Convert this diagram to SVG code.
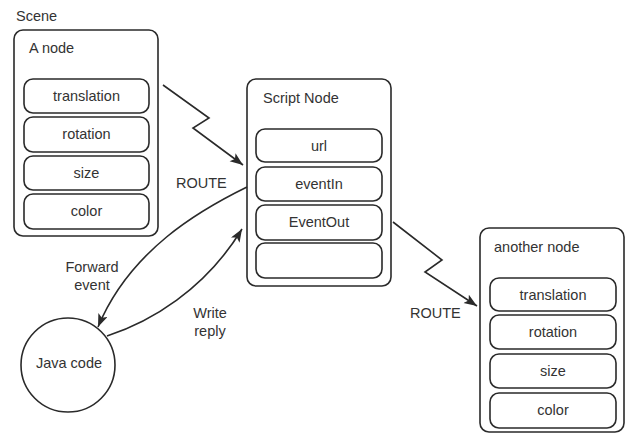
<svg xmlns="http://www.w3.org/2000/svg" width="626" height="434" viewBox="0 0 626 434">
  <style>
    text { font-family: "Liberation Sans", Arial, sans-serif; font-size: 14.5px; fill: #333; }
    .mid { text-anchor: middle; }
    .outer { fill: none; stroke: #2a2a2a; stroke-width: 1.6; }
    .field { fill: #fff; stroke: #2a2a2a; stroke-width: 1.6; }
    .link { fill: none; stroke: #2a2a2a; stroke-width: 1.6; marker-end: url(#head); }
  </style>
  <defs>
    <marker id="head" markerUnits="userSpaceOnUse" markerWidth="16" markerHeight="12" refX="13" refY="5" orient="auto">
      <path d="M0,0 L13,5 L0,10 L3,5 Z" fill="#2a2a2a"/>
    </marker>
  </defs>
  <rect width="626" height="434" fill="#fff"/>

  <text x="16" y="21">Scene</text>

  <!-- source node with its fields -->
  <g id="a-node">
    <rect class="outer" x="14" y="30" width="144" height="206" rx="9"/>
    <text x="29" y="53">A node</text>
    <rect class="field" x="24" y="79" width="125" height="34" rx="9"/>
    <text class="mid" x="86.5" y="101">translation</text>
    <rect class="field" x="24" y="117" width="125" height="35" rx="9"/>
    <text class="mid" x="86.5" y="139">rotation</text>
    <rect class="field" x="24" y="156" width="125" height="34" rx="9"/>
    <text class="mid" x="86.5" y="178">size</text>
    <rect class="field" x="24" y="194" width="125" height="35" rx="9"/>
    <text class="mid" x="86.5" y="216">color</text>
  </g>

  <!-- script node -->
  <g id="script-node">
    <rect class="outer" x="247" y="79" width="144" height="207" rx="9"/>
    <text x="263" y="103">Script Node</text>
    <rect class="field" x="256" y="129" width="126" height="33" rx="9"/>
    <text class="mid" x="319" y="151">url</text>
    <rect class="field" x="256" y="167" width="126" height="34" rx="9"/>
    <text class="mid" x="319" y="189">eventIn</text>
    <rect class="field" x="256" y="205" width="126" height="35" rx="9"/>
    <text class="mid" x="319" y="227">EventOut</text>
    <rect class="field" x="256" y="243" width="126" height="35" rx="9"/>
  </g>

  <!-- destination node -->
  <g id="another-node">
    <rect class="outer" x="480" y="228" width="144" height="204" rx="9"/>
    <text x="494" y="252">another node</text>
    <rect class="field" x="490" y="278" width="126" height="33" rx="9"/>
    <text class="mid" x="553" y="300">translation</text>
    <rect class="field" x="490" y="315" width="126" height="34" rx="9"/>
    <text class="mid" x="553" y="337">rotation</text>
    <rect class="field" x="490" y="354" width="126" height="34" rx="9"/>
    <text class="mid" x="553" y="376">size</text>
    <rect class="field" x="490" y="393" width="126" height="35" rx="9"/>
    <text class="mid" x="553" y="415">color</text>
  </g>

  <!-- external code -->
  <g id="java-code">
    <circle cx="68" cy="365" r="47" fill="#fff" stroke="#2a2a2a" stroke-width="1.6"/>
    <text class="mid" x="69" y="368">Java code</text>
  </g>

  <!-- routes and event flow -->
  <g id="connectors">
    <path class="link" d="M163,85 L209,118 L193,128 L243,165"/>
    <path class="link" d="M393,222 L442,260 L425,272 L477,306"/>
    <path class="link" d="M247,187 C200,210 130,250 98,327"/>
    <path class="link" d="M107,336 C150,322 205,290 242,229"/>
    <text x="176" y="188">ROUTE</text>
    <text x="410" y="318">ROUTE</text>
    <text class="mid" x="92" y="272">Forward</text>
    <text class="mid" x="92" y="290">event</text>
    <text class="mid" x="210" y="318">Write</text>
    <text class="mid" x="210" y="336">reply</text>
  </g>
</svg>
